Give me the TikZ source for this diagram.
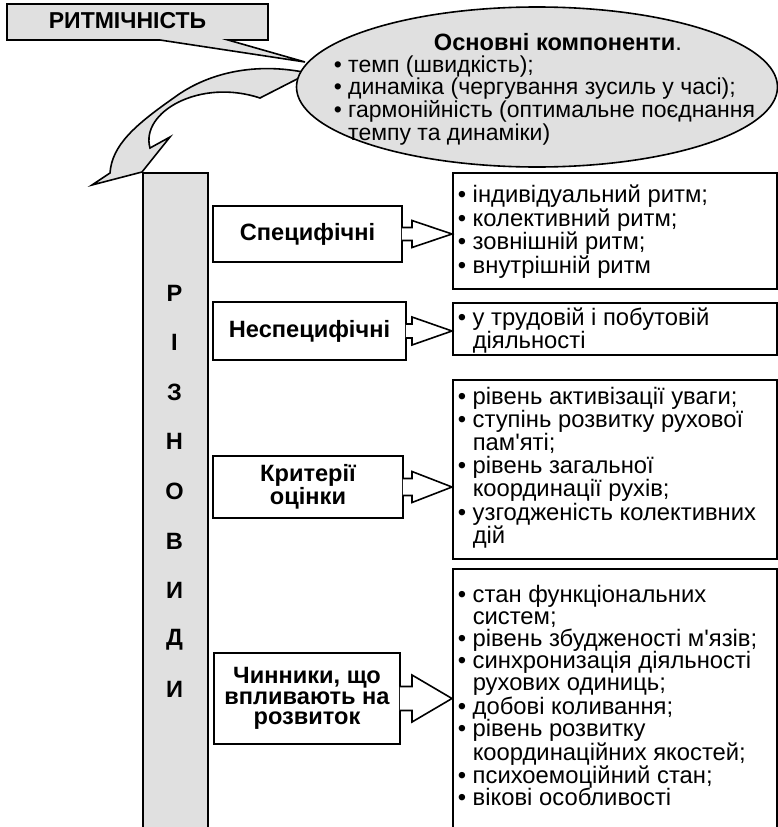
\documentclass[tikz,border=0pt]{standalone}
\usepackage{fontspec}
\setmainfont{Liberation Sans}
\usetikzlibrary{calc,shapes.geometric}
\definecolor{shade}{HTML}{E0E0E0}
\newcommand\ind{\hphantom{• }}
\newcommand\ap{\textquotesingle}
\newcommand\blockarrow[4]{% from, to, half shaft, half head
  \draw[arrline] ($(#1.east)+(-1,-#3)$) -- ($(#1.east -| hx)+(0,-#3)$) -- ($(#1.east -| hx)+(0,-#4)$)
    -- (#1.east -| #2.west) -- ($(#1.east -| hx)+(0,#4)$) -- ($(#1.east -| hx)+(0,#3)$) -- ($(#1.east)+(-1,#3)$);}
\tikzset{
  lbox/.style={draw, line width=1.6pt, fill=white, inner sep=0pt, align=center,
    font=\bfseries\fontsize{23.6}{20.5}\selectfont},
  rbox/.style={draw, line width=2pt, fill=white, inner sep=0pt, anchor=north west, minimum width=324},
  rlist/.style={anchor=north west, inner sep=0pt, align=left},
  arrline/.style={line width=1.6pt, fill=white, draw, line join=miter},
}
\begin{document}
\begin{tikzpicture}[x=1pt, y=-1pt, line width=1.6pt]
  \path[use as bounding box, fill=white] (0,0) rectangle (778,827);
  % title callout
  \coordinate (tip) at (305,62);
  \draw[fill=shade] (7,4) -- (268,4) -- (268,40) -- (228,40) -- (tip) -- (160,40) -- (7,40) -- cycle;
  \node[font=\bfseries\fontsize{23}{23}\selectfont, anchor=base] (ritm) at (127.5,28) {РИТМІЧНІСТЬ};
  % curved arrow
  \draw[fill=shade] (303,72) .. controls (250,62) and (205,75) .. (175,97)
    .. controls (135,125) and (112,145) .. (110,173) -- (92,185) -- (142,172) -- (170,137) -- (150,148)
    .. controls (140,112) and (200,78) .. (260,98) -- (303,76) -- cycle;
  % components
  \node[ellipse, draw, fill=shade, minimum width=481, minimum height=160, inner sep=0pt] (comp) at (537,87) {};
  \node[font=\bfseries\fontsize{23.6}{23}\selectfont, anchor=base] (comphead) at (558,50) {Основні компоненти\textmd{.}};
  \node[rlist, font=\fontsize{23}{21.3}\selectfont] (complist) at (333,55)
    {• темп (швидкість);\\• динаміка (чергування зусиль у часі);\\• гармонійність (оптимальне поєднання\\\ind темпу та динаміки)};
  % bar
  \node[draw, fill=shade, minimum width=65, minimum height=668, inner sep=0pt, anchor=north west] (bar) at (142,172) {};
  \foreach \l [count=\i] in {Р,І,З,Н,О,В,И,Д,И}
    \node[font=\bfseries\fontsize{23.6}{23}\selectfont] (v\i) at (174.5, {293+49.6*(\i-1)}) {\l};
  % left boxes
  \node[lbox, minimum width=189, minimum height=56] (spec) at (307.5,234) {Специфічні};
  \node[lbox, minimum width=193, minimum height=58] (nespec) at (309.5,331) {Неспецифічні};
  \node[lbox, minimum width=190, minimum height=62] (krit) at (308,487) {Критерії\\оцінки};
  \node[lbox, minimum width=186, minimum height=91] (chyn) at (307,698.5) {Чинники, що\\впливають на\\розвиток};
  % right boxes
  \node[rbox, minimum height=116] (r1) at (452,172) {};
  \node[rbox, minimum height=52] (r2) at (452,302) {};
  \node[rbox, minimum height=179] (r3) at (452,379) {};
  \node[rbox, minimum height=272] (r4) at (452,568) {};
  \coordinate (hx) at (412,0);
  \blockarrow{spec}{r1}{6.5}{13.5}
  \blockarrow{nespec}{r2}{7}{14}
  \blockarrow{krit}{r3}{8.5}{15.5}
  \blockarrow{chyn}{r4}{12}{23.5}
  % lists
  \node[rlist, font=\fontsize{23.8}{22.5}\selectfont] (t1) at (457,184)
    {• індивідуальний ритм;\\• колективний ритм;\\• зовнішній ритм;\\• внутрішній ритм};
  \node[rlist, font=\fontsize{23.8}{20.5}\selectfont] (t2) at (457,307)
    {• у трудовій і побутовій\\\ind діяльності};
  \node[rlist, font=\fontsize{23.8}{23.2}\selectfont] (t3) at (457,386)
    {• рівень активізації уваги;\\• ступінь розвитку рухової\\\ind пам\ap яті;\\• рівень загальної\\\ind координації рухів;\\• узгодженість колективних\\\ind дій};
  \node[rlist, font=\fontsize{23.8}{22.2}\selectfont] (t4) at (457,584)
    {• стан функціональних\\\ind систем;\\• рівень збудженості м\ap язів;\\• синхронизація діяльності\\\ind рухових одиниць;\\• добові коливання;\\• рівень розвитку\\\ind координаційних якостей;\\• психоемоційний стан;\\• вікові особливості};
\end{tikzpicture}
\end{document}
